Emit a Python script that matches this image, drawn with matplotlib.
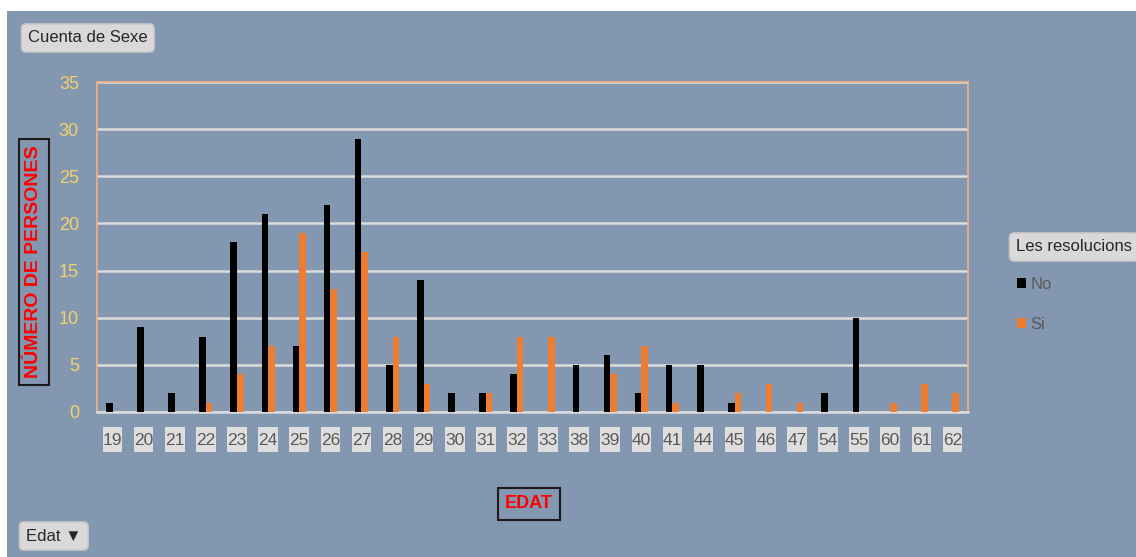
import numpy as np
import matplotlib as mpl
mpl.use('Agg')
import matplotlib.pyplot as plt
import matplotlib.transforms as mtransforms
from matplotlib.patches import Rectangle

# ages (Edat) and counts per answer
edats = ['19', '20', '21', '22', '23', '24', '25', '26', '27', '28', '29', '30', '31', '32',
         '33', '38', '39', '40', '41', '44', '45', '46', '47', '54', '55', '60', '61', '62']
no_vals = [1, 9, 2, 8, 18, 21, 7, 22, 29, 5, 14, 2, 2, 4,
           0, 5, 6, 2, 5, 5, 1, 0, 0, 2, 10, 0, 0, 0]
si_vals = [0, 0, 0, 1, 4, 7, 19, 13, 17, 8, 3, 0, 2, 8,
           8, 0, 4, 7, 1, 0, 2, 3, 1, 0, 0, 1, 3, 2]
yticks = [0, 5, 10, 15, 20, 25, 30, 35]

plt.rcParams['font.family'] = ['Liberation Sans Narrow', 'Liberation Sans', 'DejaVu Sans']

bg = '#8497b0'
W, H = 1136, 557
fig = plt.figure(figsize=(W / 100, H / 100), dpi=100, facecolor='white')
fig.patches.append(Rectangle((7 / W, 0), 1 - 7 / W, 1 - 11 / H, transform=fig.transFigure,
                             facecolor=bg, edgecolor='none', zorder=-10))

ax = fig.add_axes([97 / W, 145 / H, 871 / W, 330 / H])
ax.set_facecolor(bg)

x = np.arange(len(edats))
w = 0.21
b_no = ax.bar(x - w / 2, no_vals, w, color='black', zorder=3)
b_si = ax.bar(x + w / 2, si_vals, w, color='#ed7d31', zorder=3)

ax.set_xlim(-0.5, len(edats) - 0.5)
ax.set_ylim(0, 35)
ax.set_yticks(yticks)
ax.yaxis.grid(True, color='#dcdcdc', linewidth=1.8, zorder=1)
ax.set_axisbelow(True)
for s in ax.spines.values():
    s.set_color('#f4b183')
    s.set_linewidth(1.2)
ax.spines['bottom'].set_color('#dcdcdc')
ax.spines['bottom'].set_linewidth(1.8)

ax.tick_params(axis='y', length=0, pad=13, labelsize=13, labelcolor='#f2d36b')
ax.set_xticks([])

# category labels in small grey boxes under the axis
trans = mtransforms.blended_transform_factory(ax.transData, ax.transAxes)
box_h = 25 / 330
for xi, lab in zip(x, edats):
    ax.add_patch(Rectangle((xi - 0.315, -0.121), 0.63, box_h, transform=trans,
                           facecolor='#dedede', edgecolor='none', clip_on=False))
    ax.text(xi, -0.121 + box_h / 2, lab, transform=trans, ha='center', va='center_baseline',
            fontsize=12.5, color='#595959', clip_on=False)

btn = dict(boxstyle='round,pad=0.4,rounding_size=0.3', facecolor='#d9d9d9', edgecolor='#c4c4c4')

fig.text(28 / W, 1 - 38 / H, 'Cuenta de Sexe', fontsize=12, color='#262626',
         va='center', ha='left', bbox=btn)
fig.text(26 / W, 1 - 536 / H, 'Edat \u25BC', fontsize=12, color='#262626',
         va='center', ha='left', bbox=btn)
fig.text(1016 / W, 1 - 247 / H, 'Les resolucions', fontsize=12, color='#262626',
         va='center', ha='left', bbox=btn)

fig.text(529 / W, 1 - 504 / H, 'EDAT', fontsize=13, color='#ff0000', fontweight='bold',
         va='center', ha='center',
         bbox=dict(boxstyle='square,pad=0.4', facecolor='none', edgecolor='#1a1a1a', linewidth=1.5))
fig.text(34 / W, 1 - 262 / H, 'NÚMERO DE PERSONES', fontsize=14, color='#ff0000',
         fontweight='bold', rotation=90, va='center', ha='center',
         bbox=dict(boxstyle='square,pad=0.35', facecolor='none', edgecolor='#1a1a1a', linewidth=1.5))

fig.legend([b_no, b_si], ['No', 'Si'], loc='upper left',
           bbox_to_anchor=(1002 / W, 1 - 262 / H), frameon=False, fontsize=12,
           labelcolor='#595959', handlelength=0.55, handleheight=0.55,
           handletextpad=0.25, labelspacing=1.5)

fig.savefig('out.png', dpi=100, facecolor=fig.get_facecolor())
